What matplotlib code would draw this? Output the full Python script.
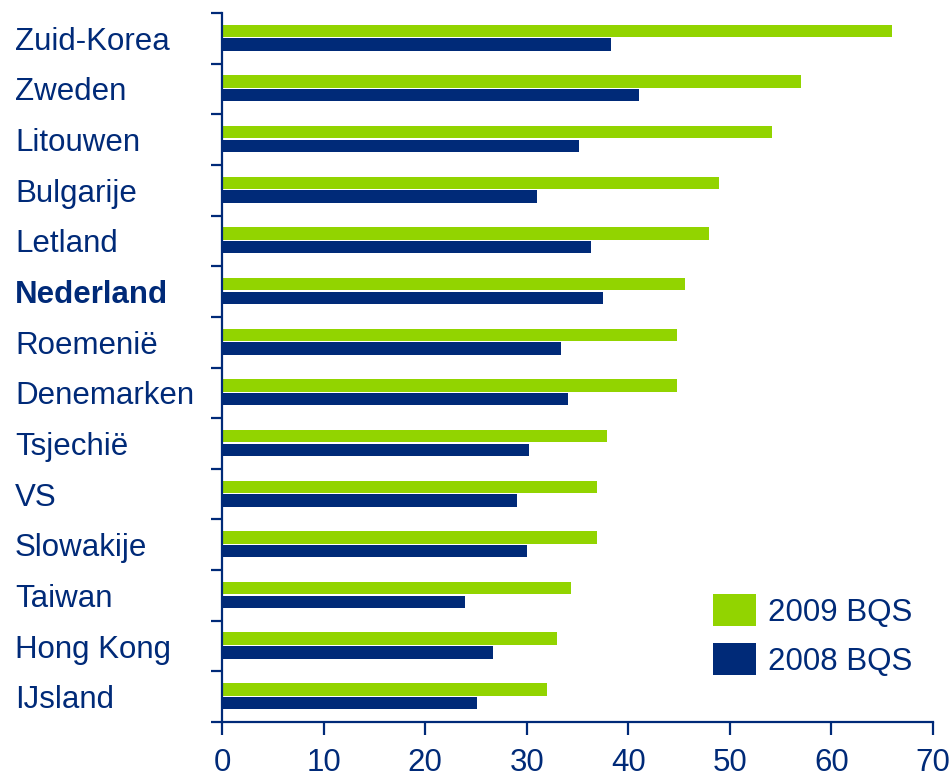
import matplotlib
matplotlib.use("Agg")
import matplotlib.pyplot as plt
import numpy as np

plt.rcParams['font.family'] = ['Liberation Sans', 'DejaVu Sans']

countries = ["Zuid-Korea", "Zweden", "Litouwen", "Bulgarije", "Letland", "Nederland",
             "Roemenië", "Denemarken", "Tsjechië", "VS", "Slowakije", "Taiwan",
             "Hong Kong", "IJsland"]
bqs_2009 = [66.0, 57.0, 54.1, 48.9, 47.9, 45.6, 44.8, 44.8, 37.9, 36.9, 36.9, 34.4, 33.0, 32.0]
bqs_2008 = [38.3, 41.1, 35.1, 31.0, 36.3, 37.5, 33.4, 34.1, 30.2, 29.0, 30.0, 23.9, 26.7, 25.1]
x_ticks = [0, 10, 20, 30, 40, 50, 60, 70]
series_labels = ["2009 BQS", "2008 BQS"]
bold_label = "Nederland"

navy = "#002A78"
green = "#92D400"
W, H = 952, 781
fig = plt.figure(figsize=(W / 100, H / 100), dpi=100)
ax = fig.add_axes([222 / W, 1 - 722 / H, (933 - 222) / W, (722 - 13) / H])

y = np.arange(len(countries))
h = 0.245
ax.barh(y - 0.145, bqs_2009, height=h, color=green, label=series_labels[0])
ax.barh(y + 0.125, bqs_2008, height=h, color=navy, label=series_labels[1])

ax.set_xlim(0, 70)
ax.set_ylim(len(countries) - 0.5, -0.5)

for s in ['top', 'right']:
    ax.spines[s].set_visible(False)
for s in ['left', 'bottom']:
    ax.spines[s].set_color(navy)
    ax.spines[s].set_linewidth(1.6)

fs = 22.5
ax.set_xticks(x_ticks)
ax.set_xticklabels([str(t) for t in x_ticks], fontsize=fs, color=navy)
ax.tick_params(axis='x', direction='out', length=9, width=1.6, color=navy, pad=9.5)

ax.set_yticks(y)
ax.set_yticklabels(countries, fontsize=fs, color=navy, ha='left')
ax.tick_params(axis='y', which='major', length=0, pad=(222 - 15) * 0.72)
for lbl in ax.get_yticklabels():
    if lbl.get_text() == bold_label:
        lbl.set_fontweight('bold')
ax.set_yticks(np.arange(len(countries) + 1) - 0.5, minor=True)
ax.tick_params(axis='y', which='minor', direction='out', length=8, width=1.6, color=navy)

leg = ax.legend(loc='upper left', bbox_to_anchor=(713 / W, 1 - 594 / H),
                bbox_transform=fig.transFigure, frameon=False, fontsize=fs,
                handlelength=1.37, handleheight=1.2, handletextpad=0.4,
                labelspacing=0.5, borderpad=0, borderaxespad=0)
for t in leg.get_texts():
    t.set_color(navy)

fig.savefig("out.png", dpi=100)
